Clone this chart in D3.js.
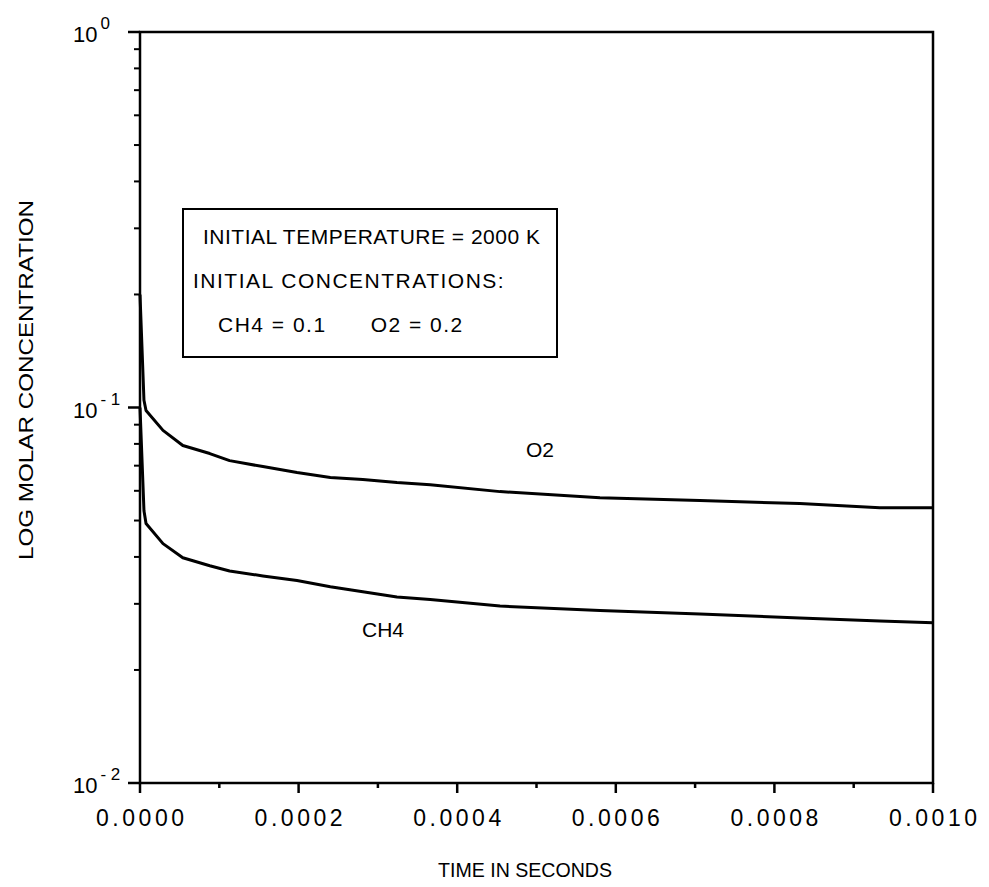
<!DOCTYPE html>
<html>
<head>
    <meta charset="utf-8">
    <title>Log molar concentration vs time</title>
    <script src="https://d3js.org/d3.v7.min.js"></script>
    <style>
        body { margin: 0; background: #fff; }
        text { font-family: "Liberation Sans", Arial, sans-serif; fill: #000; }
    </style>
</head>
<body>
    <div id="chart"></div>
    <script>
        // values (time in s, molar concentration)
        const times = [0, 0.000005, 0.0000076, 0.000029, 0.000054, 0.000088, 0.000113, 0.000155,
            0.000198, 0.00024, 0.000281, 0.000324, 0.000366, 0.000454, 0.00058, 0.000706,
            0.000832, 0.000933, 0.001];
        const o2 = [0.2, 0.1045, 0.0982, 0.0869, 0.0792, 0.0754, 0.0722, 0.0696,
            0.0671, 0.0651, 0.0643, 0.0631, 0.0623, 0.0597, 0.0575, 0.0565,
            0.0555, 0.0541, 0.0541];
        const ch4 = [0.1, 0.0531, 0.0491, 0.0434, 0.0398, 0.0379, 0.0367, 0.0356,
            0.0346, 0.0333, 0.0323, 0.0313, 0.0308, 0.0296, 0.0288, 0.0282,
            0.0275, 0.0270, 0.0267];
        const xTicks = [0, 0.0002, 0.0004, 0.0006, 0.0008, 0.001];
        const xMinorTicks = [0.0001, 0.0003, 0.0005, 0.0007, 0.0009];
        const yDecades = [1, 0.1, 0.01];
        const yExponents = ["0", "-1", "-2"];
        const infoLines = ["INITIAL TEMPERATURE = 2000 K", "INITIAL CONCENTRATIONS:", "CH4 = 0.1      O2 = 0.2"];

        const width = 989, height = 887;
        const margin = { top: 32, right: 56, bottom: 104, left: 140 };

        const svg = d3.select("#chart").append("svg")
            .attr("width", width)
            .attr("height", height);

        const x = d3.scaleLinear()
            .domain([0, 0.001])
            .range([margin.left, width - margin.right]);

        const y = d3.scaleLog()
            .domain([0.01, 1])
            .range([height - margin.bottom, margin.top]);

        // frame
        svg.append("rect")
            .attr("x", x(0)).attr("y", y(1))
            .attr("width", x(0.001) - x(0))
            .attr("height", y(0.01) - y(1))
            .attr("fill", "none")
            .attr("stroke", "#000")
            .attr("stroke-width", 2.5);

        // x axis ticks pointing down
        const xAxis = svg.append("g").attr("transform", `translate(0,${y(0.01)})`);
        xAxis.selectAll(".major").data(xTicks).join("line")
            .attr("x1", d => x(d)).attr("x2", d => x(d))
            .attr("y1", 0).attr("y2", 10)
            .attr("stroke", "#000").attr("stroke-width", 2.5);
        xAxis.selectAll(".minor").data(xMinorTicks).join("line")
            .attr("x1", d => x(d)).attr("x2", d => x(d))
            .attr("y1", 0).attr("y2", 5)
            .attr("stroke", "#000").attr("stroke-width", 2.5);
        xAxis.selectAll("text").data(xTicks).join("text")
            .attr("x", d => x(d))
            .attr("y", 43)
            .attr("text-anchor", "middle")
            .attr("font-size", 23)
            .attr("textLength", 88)
            .attr("lengthAdjust", "spacing")
            .text(d => d.toFixed(4));

        // y axis ticks pointing left
        const minorY = [];
        [0.01, 0.1].forEach(dec => { for (let k = 2; k <= 9; k++) minorY.push(dec * k); });
        const yAxis = svg.append("g");
        yAxis.selectAll(".minor").data(minorY).join("line")
            .attr("x1", x(0) - 6).attr("x2", x(0))
            .attr("y1", d => y(d)).attr("y2", d => y(d))
            .attr("stroke", "#000").attr("stroke-width", 2);
        yAxis.selectAll(".major").data(yDecades).join("line")
            .attr("x1", x(0) - 12).attr("x2", x(0))
            .attr("y1", d => y(d)).attr("y2", d => y(d))
            .attr("stroke", "#000").attr("stroke-width", 2.5);
        const yLabels = yAxis.selectAll("text").data(yDecades).join("text")
            .attr("x", 73)
            .attr("y", d => y(d) + 10)
            .attr("font-size", 22);
        yLabels.append("tspan").text("10");
        yLabels.append("tspan")
            .attr("dx", 3)
            .attr("dy", -13)
            .attr("font-size", 17)
            .text((d, i) => yExponents[i].replace("-", "- "));

        // curves
        const line = d3.line()
            .x((d, i) => x(times[i]))
            .y(d => y(d));
        [o2, ch4].forEach(series => {
            svg.append("path")
                .datum(series)
                .attr("d", line)
                .attr("fill", "none")
                .attr("stroke", "#000")
                .attr("stroke-width", 3)
                .attr("stroke-linejoin", "round");
        });

        svg.append("text").attr("x", 526).attr("y", 457).attr("font-size", 21).text("O2");
        svg.append("text").attr("x", 362).attr("y", 637).attr("font-size", 21).text("CH4");

        // info box
        svg.append("rect")
            .attr("x", 183).attr("y", 209)
            .attr("width", 374).attr("height", 148)
            .attr("fill", "#fff")
            .attr("stroke", "#000")
            .attr("stroke-width", 2);
        const infoX = [203, 193, 218];
        const infoSpacing = [0.5, 1.5, 1.5];
        svg.selectAll(".info").data(infoLines).join("text")
            .attr("class", "info")
            .attr("x", (d, i) => infoX[i])
            .attr("y", (d, i) => 244 + i * 44)
            .attr("font-size", 21)
            .attr("letter-spacing", (d, i) => infoSpacing[i])
            .style("white-space", "pre")
            .text(d => d);

        // axis titles
        svg.append("text")
            .attr("x", 525).attr("y", 877)
            .attr("text-anchor", "middle")
            .attr("font-size", 20)
            .attr("textLength", 174)
            .attr("lengthAdjust", "spacingAndGlyphs")
            .text("TIME IN SECONDS");
        svg.append("text")
            .attr("transform", "translate(33,380) rotate(-90)")
            .attr("text-anchor", "middle")
            .attr("font-size", 21)
            .attr("textLength", 360)
            .attr("lengthAdjust", "spacingAndGlyphs")
            .text("LOG MOLAR CONCENTRATION");
    </script>
</body>
</html>
